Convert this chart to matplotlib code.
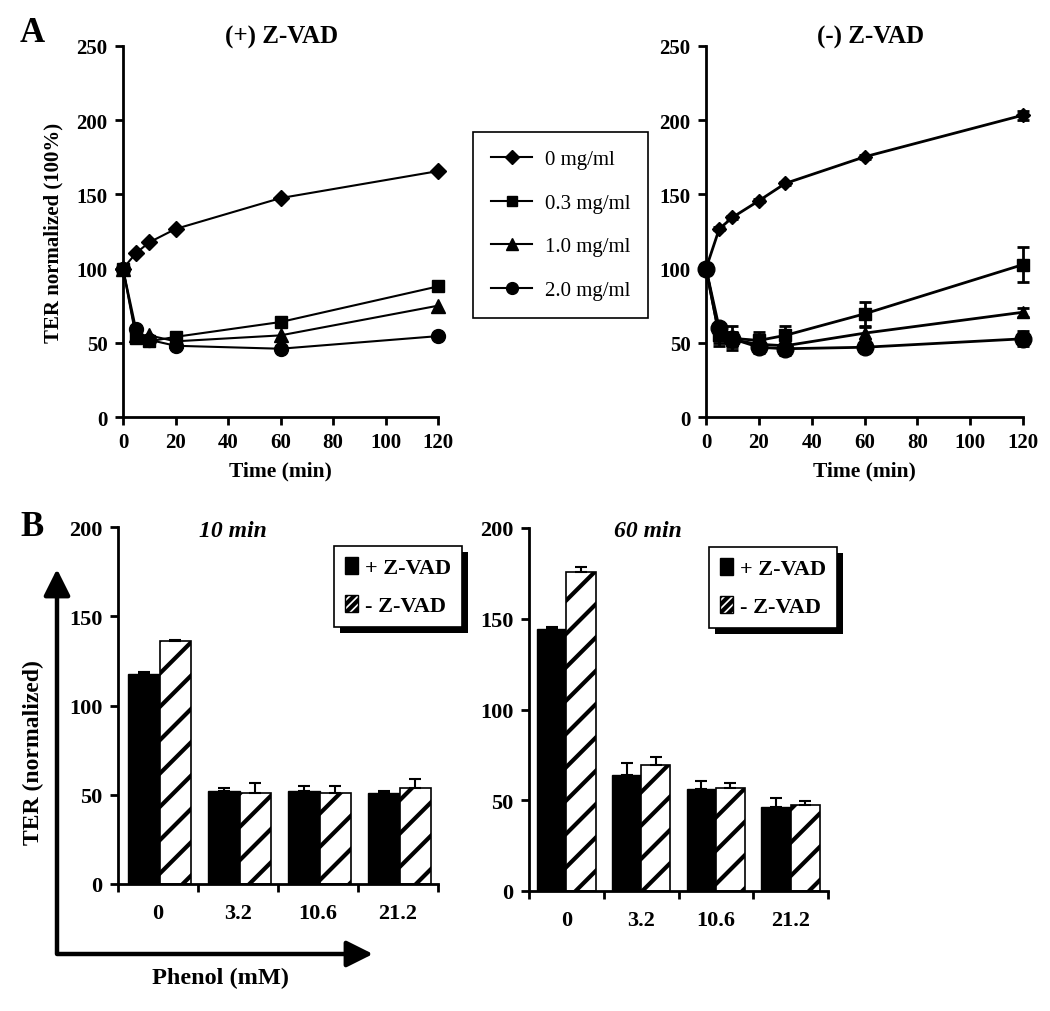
import matplotlib
matplotlib.use("Agg")
import matplotlib.pyplot as plt
import numpy as np
from matplotlib.patches import FancyArrowPatch, Patch
from matplotlib.path import Path
from matplotlib import patheffects as pe

plt.rcParams['font.family'] = ['Liberation Serif', 'DejaVu Serif']
plt.rcParams['hatch.linewidth'] = 3.0

# ---------------- data ----------------
labels_conc = ["0 mg/ml", "0.3 mg/ml", "1.0 mg/ml", "2.0 mg/ml"]
markers = ["D", "s", "^", "o"]

t_plus = [0, 5, 10, 20, 60, 120]
plus_0 = [100, 110.5, 117.7, 126.7, 147.5, 165.7]
plus_03 = [100, 53, 51, 54, 64, 88]
plus_10 = [100, 55, 55, 51, 55, 75]
plus_20 = [100, 59, 52, 48, 46, 54.5]

t_minus = [0, 5, 10, 20, 30, 60, 120]
minus_0 = [100, 126.7, 134.5, 145.7, 157.4, 175.3, 203.4]
minus_0_err = [0, 1, 1, 1, 1, 1.5, 3]
minus_03 = [100, 55, 53, 51.6, 55, 69.5, 102.7]
minus_03_err = [0, 7, 8, 6, 6, 8, 12]
minus_10 = [100, 55, 52, 49, 48, 56.5, 70.6]
minus_10_err = [0, 5, 5, 5, 5, 4, 3]
minus_20 = [100, 59.9, 52.7, 47, 46, 47, 52.7]
minus_20_err = [0, 3, 3, 4, 4, 2, 5]

phenol = ["0", "3.2", "10.6", "21.2"]
b10_plus = [117.8, 52.3, 52.3, 50.8]
b10_plus_err = [1.2, 1.5, 2.5, 1.3]
b10_minus = [136, 51.2, 51.2, 54]
b10_minus_err = [0.8, 5.4, 3.6, 4.7]
b60_plus = [144.4, 64, 56.1, 46.2]
b60_plus_err = [1.2, 6.3, 4.3, 5.2]
b60_minus = [175.6, 69.5, 56.5, 47.5]
b60_minus_err = [3.1, 4.1, 2.9, 2.0]

# ---------------- figure ----------------
W, H = 1050, 1012
fig = plt.figure(figsize=(W / 100, H / 100), dpi=100)

def fx(px):
    return px / W

def fy(py):
    return 1 - py / H

def style_axes(ax, fs=15, pad=5):
    for s in ['top', 'right']:
        ax.spines[s].set_visible(False)
    for s in ['left', 'bottom']:
        ax.spines[s].set_linewidth(2)
    ax.tick_params(width=2, length=6, direction='out', labelsize=fs, pad=pad)
    for lab in ax.get_xticklabels() + ax.get_yticklabels():
        lab.set_fontweight('bold')

# ---------- Panel A ----------
axA1 = fig.add_axes([fx(123), fy(418), fx(438) - fx(123), fy(47) - fy(418)])
axA2 = fig.add_axes([fx(706), fy(418), fx(1023) - fx(706), fy(47) - fy(418)])

series_plus = [plus_0, plus_03, plus_10, plus_20]
ms_plus = [8, 9, 10, 10]
for ys, m, lab, ms in zip(series_plus, markers, labels_conc, ms_plus):
    axA1.plot(t_plus, ys, color='black', marker=m, ms=ms,
              lw=1.5, clip_on=False, label=lab)

series_minus = [minus_0, minus_03, minus_10, minus_20]
errs_minus = [minus_0_err, minus_03_err, minus_10_err, minus_20_err]
ms_minus = [7, 9, 9, 12]
for ys, es, m, ms in zip(series_minus, errs_minus, markers, ms_minus):
    axA2.errorbar(t_minus, ys, yerr=es, color='black', marker=m, ms=ms,
                  lw=2, elinewidth=2, capsize=4, capthick=2, clip_on=False)

for ax, title, cx in [(axA1, "(+) Z-VAD", 282), (axA2, "(-) Z-VAD", 871)]:
    ax.set_xlim(0, 120)
    ax.set_ylim(0, 250)
    ax.set_xticks(np.arange(0, 121, 20))
    ax.set_yticks(np.arange(0, 251, 50))
    style_axes(ax, 15, 5)
    ax.set_xlabel("Time (min)", fontsize=15.5, fontweight='bold')
    ax.xaxis.set_label_coords(0.5, -0.118)
    fig.text(fx(cx), fy(37), title, ha='center', va='center',
             fontsize=18, fontweight='bold')

axA1.set_ylabel("TER normalized (100%)", fontsize=15, fontweight='bold')
axA1.yaxis.set_label_coords(-0.19, 0.5)

handles, labs = axA1.get_legend_handles_labels()
legA = fig.legend(handles, labs, loc='upper left',
                  bbox_to_anchor=(fx(473), fy(133)), bbox_transform=fig.transFigure,
                  fontsize=15, frameon=True, fancybox=False, edgecolor='black',
                  framealpha=1, borderpad=0.85, labelspacing=1.15, handlelength=2.0,
                  handletextpad=0.6, borderaxespad=0, markerscale=0.85)
legA.get_frame().set_linewidth(1.2)

# ---------- Panel B ----------
axB1 = fig.add_axes([fx(118), fy(885), fx(438) - fx(118), fy(528) - fy(885)])
axB2 = fig.add_axes([fx(529), fy(892), fx(828) - fx(529), fy(529) - fy(892)])

x = np.arange(len(phenol))
bw = 0.39
for ax, pv, pe_, mv, me, ttl, tx, lx, ly, sh in [
        (axB1, b10_plus, b10_plus_err, b10_minus, b10_minus_err, "10 min", 233, 334, 547, 0.02),
        (axB2, b60_plus, b60_plus_err, b60_minus, b60_minus_err, "60 min", 648, 709, 548, 0.0)]:
    ax.bar(x - bw / 2 + sh, pv, bw, color='black', edgecolor='black', lw=1,
           label='+ Z-VAD')
    ax.errorbar(x - bw / 2 + sh, pv, yerr=[np.zeros(len(pv)), pe_], fmt='none',
                ecolor='black', elinewidth=1.5, capsize=4, capthick=1.5)
    ax.bar(x + bw / 2 + sh, mv, bw, color='white', edgecolor='black', lw=1.2,
           hatch='/', label='- Z-VAD')
    ax.errorbar(x + bw / 2 + sh, mv, yerr=[np.zeros(len(mv)), me], fmt='none',
                ecolor='black', elinewidth=1.5, capsize=4, capthick=1.5)
    ax.set_xlim(-0.5, 3.5)
    ax.set_ylim(0, 200)
    ax.set_yticks(np.arange(0, 201, 50))
    ax.set_xticks(np.arange(-0.5, 3.6, 1.0))
    ax.set_xticklabels([])
    ax.set_xticks(x, minor=True)
    ax.set_xticklabels(phenol, minor=True)
    style_axes(ax, 16, 5)
    ax.tick_params(axis='x', which='minor', length=0, labelsize=16, pad=14)
    for lab in ax.get_xticklabels(minor=True):
        lab.set_fontweight('bold')
    fig.text(fx(tx), fy(532), ttl, ha='center', va='center',
             fontsize=17, fontweight='bold', fontstyle='italic')
    h_black = Patch(facecolor='black', edgecolor='black')
    h_hatch = Patch(facecolor='white', edgecolor='black', hatch='////')
    leg = ax.legend([h_black, h_hatch], ['+ Z-VAD', '- Z-VAD'],
                    loc='upper left', bbox_to_anchor=(fx(lx), fy(ly)),
                    bbox_transform=fig.transFigure,
                    prop={'weight': 'bold', 'size': 16},
                    frameon=True, fancybox=False, edgecolor='black', framealpha=1,
                    handlelength=0.6, handleheight=0.8, handletextpad=0.3,
                    labelspacing=0.75, borderpad=0.5, borderaxespad=0)
    fr = leg.get_frame()
    fr.set_linewidth(1.2)
    fr.set_path_effects([pe.SimplePatchShadow(offset=(4, -4), shadow_rgbFace='black', alpha=1),
                         pe.Normal()])

# Big L-shaped arrow
path = Path([(fx(57), fy(570)), (fx(57), fy(955)), (fx(373), fy(955))],
            [Path.MOVETO, Path.LINETO, Path.LINETO])
arr = FancyArrowPatch(path=path, arrowstyle='<|-|>,head_length=0.8,head_width=0.4',
                      mutation_scale=20, lw=3.2, color='black',
                      transform=fig.transFigure)
fig.add_artist(arr)

fig.text(fx(33), fy(753), "TER (normalized)", rotation=90, ha='center', va='center',
         fontsize=17, fontweight='bold')
fig.text(fx(220), fy(978), "Phenol (mM)", ha='center', va='center',
         fontsize=17.5, fontweight='bold')

# Panel letters
fig.text(fx(32), fy(33), "A", ha='center', va='center', fontsize=25, fontweight='bold')
fig.text(fx(32), fy(528), "B", ha='center', va='center', fontsize=25, fontweight='bold')

fig.savefig("out.png", dpi=100)
